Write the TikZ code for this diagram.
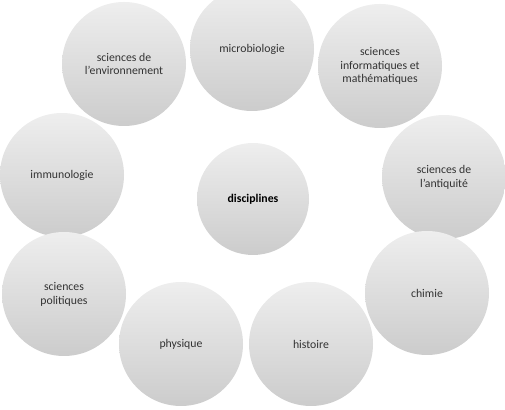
\documentclass[tikz,border=0pt]{standalone}
\usepackage{fontspec}
\setmainfont{Carlito}
\usetikzlibrary{positioning}
\definecolor{DiscTop}{RGB}{238,238,238}
\definecolor{DiscBottom}{RGB}{204,204,204}
\definecolor{DiscText}{RGB}{51,51,51}

\begin{document}
\begin{tikzpicture}[
    font=\fontsize{6.7}{7.9}\selectfont,
    disc/.style={
        circle,
        inner sep=0pt,
        minimum size=2.48cm,
        align=center,
        text=DiscText,
        top color=DiscTop,
        bottom color=DiscBottom
    },
    hub/.style={
        disc,
        minimum size=2.24cm,
        text=black,
        font=\fontsize{6.7}{7.9}\selectfont\bfseries
    }
]

\useasboundingbox (0,0) rectangle (10.1,8.2);
\clip (0,0) rectangle (10.1,8.2);

% centre
\node[hub] (disc) at (5.06,4.22) {disciplines};

% top row
\node[disc] (env)   at (2.48,6.92) {sciences de\\l'environnement};
\node[disc] (micro) at (5.04,7.22) {microbiologie};
\node[disc] (info)  at (7.60,6.88) {sciences\\informatiques et\\mathématiques};

% sides
\node[disc] (immuno) at (1.24,4.70) {immunologie};
\node[disc] (antiq)  at (8.88,4.66) {sciences de\\l'antiquité};
\node[disc] (polit)  at (1.28,2.32) {sciences\\politiques};
\node[disc] (chimie) at (8.54,2.34) {chimie};

% bottom row
\node[disc] (phys) at (3.62,1.32) {physique};
\node[disc] (hist) at (6.22,1.32) {histoire};

\end{tikzpicture}
\end{document}
